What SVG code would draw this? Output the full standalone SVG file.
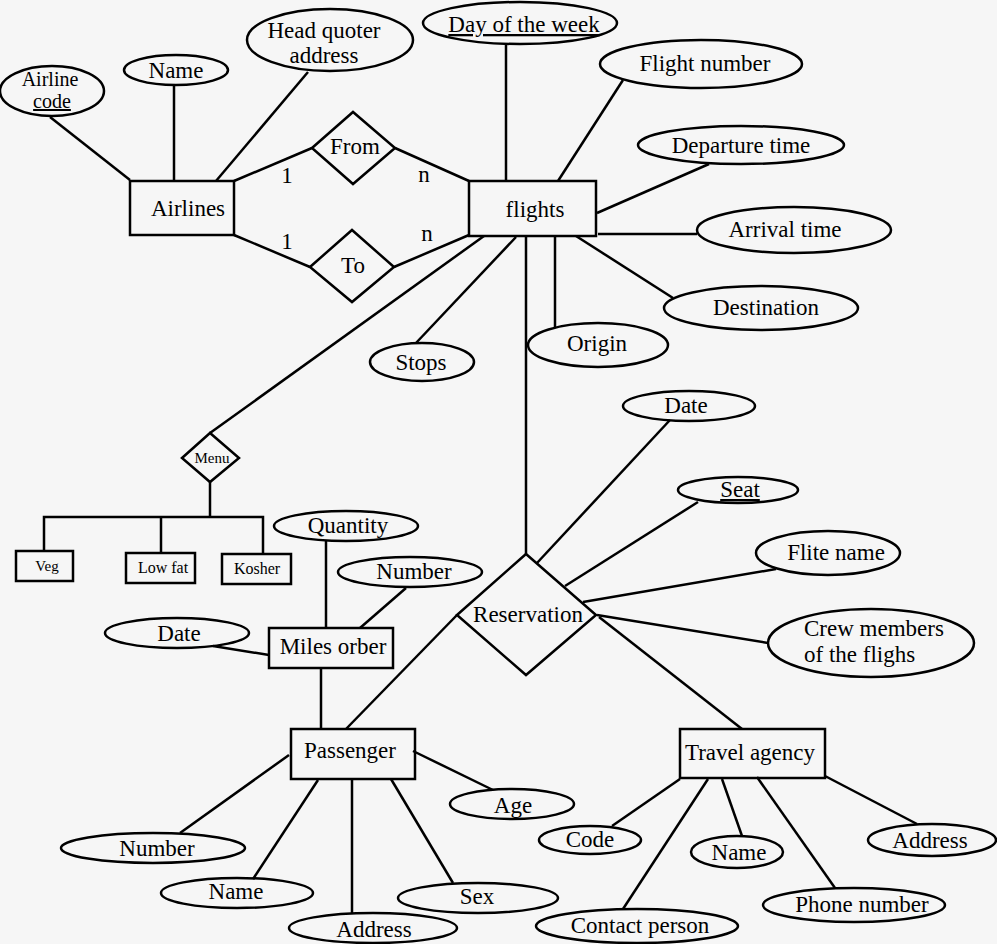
<svg xmlns="http://www.w3.org/2000/svg" width="997" height="944" viewBox="0 0 997 944">
<style>
  .bg{fill:#f6f6f6}
  .shape{fill:none;stroke:#000;stroke-width:2.5}
  .ln{stroke:#000;stroke-width:2.5;fill:none}
  text{font-family:"Liberation Serif","Times New Roman",serif;font-size:23px;fill:#000;text-anchor:middle}
  .md{font-size:20px}
  .sm{font-size:16px}
  .xs{font-size:15px}
  .u{text-decoration:underline}
  .st{text-anchor:start}
</style>
<rect class="bg" x="0" y="0" width="997" height="944"/>
<g id="connectors">
  <line class="ln" x1="50" y1="117" x2="130" y2="180"/>
  <line class="ln" x1="174" y1="85" x2="174" y2="181"/>
  <line class="ln" x1="308" y1="72" x2="216" y2="181"/>
  <line class="ln" x1="234" y1="181" x2="312" y2="148"/>
  <line class="ln" x1="395" y1="148" x2="469" y2="181"/>
  <line class="ln" x1="234" y1="235" x2="310" y2="267"/>
  <line class="ln" x1="394" y1="267" x2="469" y2="235"/>
  <line class="ln" x1="506" y1="45" x2="506" y2="181"/>
  <line class="ln" x1="623" y1="80" x2="558" y2="181"/>
  <line class="ln" x1="709" y1="164" x2="597" y2="213"/>
  <line class="ln" x1="598" y1="234" x2="697" y2="234"/>
  <line class="ln" x1="576" y1="236" x2="673" y2="298"/>
  <line class="ln" x1="555" y1="237" x2="555" y2="327"/>
  <line class="ln" x1="516" y1="237" x2="416" y2="343"/>
  <line class="ln" x1="484" y1="236" x2="210" y2="433"/>
  <line class="ln" x1="526" y1="237" x2="526" y2="554"/>
  <line class="ln" x1="210" y1="482" x2="210" y2="517"/>
  <polyline class="ln" points="44,551 44,517 263,517 263,554"/>
  <line class="ln" x1="161" y1="517" x2="161" y2="553"/>
  <line class="ln" x1="326" y1="541" x2="326" y2="628"/>
  <line class="ln" x1="406" y1="588" x2="360" y2="628"/>
  <line class="ln" x1="213" y1="646" x2="269" y2="655"/>
  <line class="ln" x1="321" y1="668" x2="321" y2="729"/>
  <line class="ln" x1="670" y1="420" x2="537" y2="563"/>
  <line class="ln" x1="698" y1="502" x2="565" y2="586"/>
  <line class="ln" x1="776" y1="569" x2="583" y2="602"/>
  <line class="ln" x1="768" y1="643" x2="597" y2="615"/>
  <line class="ln" x1="457" y1="615" x2="346" y2="729"/>
  <line class="ln" x1="599" y1="617" x2="742" y2="729"/>
  <line class="ln" x1="289" y1="755" x2="180" y2="833"/>
  <line class="ln" x1="318" y1="780" x2="253" y2="879"/>
  <line class="ln" x1="352" y1="780" x2="352" y2="913"/>
  <line class="ln" x1="391" y1="779" x2="453" y2="883"/>
  <line class="ln" x1="413" y1="751" x2="493" y2="790"/>
  <line class="ln" x1="680" y1="779" x2="612" y2="826"/>
  <line class="ln" x1="708" y1="779" x2="623" y2="909"/>
  <line class="ln" x1="722" y1="779" x2="742" y2="836"/>
  <line class="ln" x1="757" y1="777" x2="835" y2="888"/>
  <line class="ln" x1="825" y1="776" x2="917" y2="824"/>
</g>
<g id="airline-code"><ellipse class="shape" cx="52" cy="91" rx="52" ry="25"/><text x="50" y="86" class="md">Airline</text><text x="52" y="108" class="md u">code</text></g>
<g id="airline-name"><ellipse class="shape" cx="176" cy="70" rx="52" ry="15"/><text x="176" y="78">Name</text></g>
<g id="head-quoter"><ellipse class="shape" cx="330" cy="40" rx="83" ry="31"/><text x="324" y="38">Head quoter</text><text x="324" y="63">address</text></g>
<g id="airlines"><rect class="shape" x="130" y="181" width="104" height="54"/><text x="188" y="216">Airlines</text></g>
<g id="from"><polygon class="shape" points="312,148 353,112 395,148 353,184"/><text x="355" y="154">From</text></g>
<g id="to"><polygon class="shape" points="310,267 352,230 394,267 352,302"/><text x="353" y="273">To</text></g>
<g id="labels"><text x="287" y="183">1</text><text x="287" y="249">1</text><text x="424" y="182">n</text><text x="427" y="241">n</text></g>
<g id="flights"><rect class="shape" x="469" y="181" width="127" height="55"/><text x="535" y="217">flights</text></g>
<g id="day-of-week"><ellipse class="shape" cx="520" cy="23" rx="97" ry="21"/><text x="524" y="32" class="u">Day of the week</text></g>
<g id="flight-number"><ellipse class="shape" cx="701" cy="64" rx="101" ry="24"/><text x="705" y="71">Flight number</text></g>
<g id="departure-time"><ellipse class="shape" cx="741" cy="145" rx="103" ry="19"/><text x="741" y="153">Departure time</text></g>
<g id="arrival-time"><ellipse class="shape" cx="794" cy="230" rx="97" ry="23"/><text x="785" y="237">Arrival time</text></g>
<g id="destination"><ellipse class="shape" cx="761" cy="308" rx="97" ry="22"/><text x="766" y="315">Destination</text></g>
<g id="origin"><ellipse class="shape" cx="598" cy="345" rx="70" ry="22"/><text x="597" y="351">Origin</text></g>
<g id="stops"><ellipse class="shape" cx="422" cy="362" rx="52" ry="19"/><text x="421" y="370">Stops</text></g>
<g id="menu"><polygon class="shape" points="182,458 210,433 239,458 210,482"/><text x="212" y="463" class="xs">Menu</text></g>
<g id="veg"><rect class="shape" x="16" y="551" width="57" height="30"/><text x="47" y="571" class="xs">Veg</text></g>
<g id="low-fat"><rect class="shape" x="126" y="553" width="69" height="30"/><text x="163" y="573" class="sm">Low fat</text></g>
<g id="kosher"><rect class="shape" x="222" y="554" width="69" height="30"/><text x="257" y="574" class="sm">Kosher</text></g>
<g id="quantity"><ellipse class="shape" cx="346" cy="526" rx="72" ry="15"/><text x="348" y="533">Quantity</text></g>
<g id="miles-number"><ellipse class="shape" cx="410" cy="572" rx="72" ry="15"/><text x="414" y="579">Number</text></g>
<g id="miles-date"><ellipse class="shape" cx="177" cy="633" rx="72" ry="15"/><text x="179" y="641">Date</text></g>
<g id="miles-orber"><rect class="shape" x="269" y="628" width="124" height="40"/><text x="333" y="654">Miles orber</text></g>
<g id="reservation"><polygon class="shape" points="457,615 526,554 596,615 526,675"/><text x="528" y="622">Reservation</text></g>
<g id="res-date"><ellipse class="shape" cx="689" cy="406" rx="66" ry="15"/><text x="686" y="413">Date</text></g>
<g id="seat"><ellipse class="shape" cx="738" cy="490" rx="60" ry="13"/><text x="740" y="497" class="u">Seat</text></g>
<g id="flite-name"><ellipse class="shape" cx="828" cy="553" rx="72" ry="22"/><text x="836" y="560">Flite name</text></g>
<g id="crew"><ellipse class="shape" cx="871" cy="643" rx="103" ry="34"/><text x="804" y="636" class="st">Crew members</text><text x="804" y="662" class="st">of the flighs</text></g>
<g id="passenger"><rect class="shape" x="291" y="729" width="124" height="50"/><text x="350" y="758">Passenger</text></g>
<g id="p-number"><ellipse class="shape" cx="153" cy="848" rx="92" ry="15"/><text x="157" y="856">Number</text></g>
<g id="p-name"><ellipse class="shape" cx="237" cy="893" rx="76" ry="15"/><text x="236" y="899">Name</text></g>
<g id="p-address"><ellipse class="shape" cx="373" cy="928" rx="84" ry="15"/><text x="374" y="937">Address</text></g>
<g id="p-sex"><ellipse class="shape" cx="478" cy="898" rx="80" ry="15"/><text x="477" y="904">Sex</text></g>
<g id="p-age"><ellipse class="shape" cx="512" cy="804" rx="62" ry="15"/><text x="513" y="813">Age</text></g>
<g id="travel-agency"><rect class="shape" x="680" y="729" width="145" height="49"/><text x="750" y="760">Travel agency</text></g>
<g id="t-code"><ellipse class="shape" cx="590" cy="840" rx="51" ry="14"/><text x="590" y="847">Code</text></g>
<g id="t-name"><ellipse class="shape" cx="737" cy="852" rx="46" ry="16"/><text x="739" y="860">Name</text></g>
<g id="t-contact"><ellipse class="shape" cx="637" cy="926" rx="101" ry="17"/><text x="640" y="933">Contact person</text></g>
<g id="t-phone"><ellipse class="shape" cx="854" cy="905" rx="91" ry="17"/><text x="862" y="912">Phone number</text></g>
<g id="t-address"><ellipse class="shape" cx="932" cy="840" rx="64" ry="16"/><text x="930" y="848">Address</text></g>
</svg>
